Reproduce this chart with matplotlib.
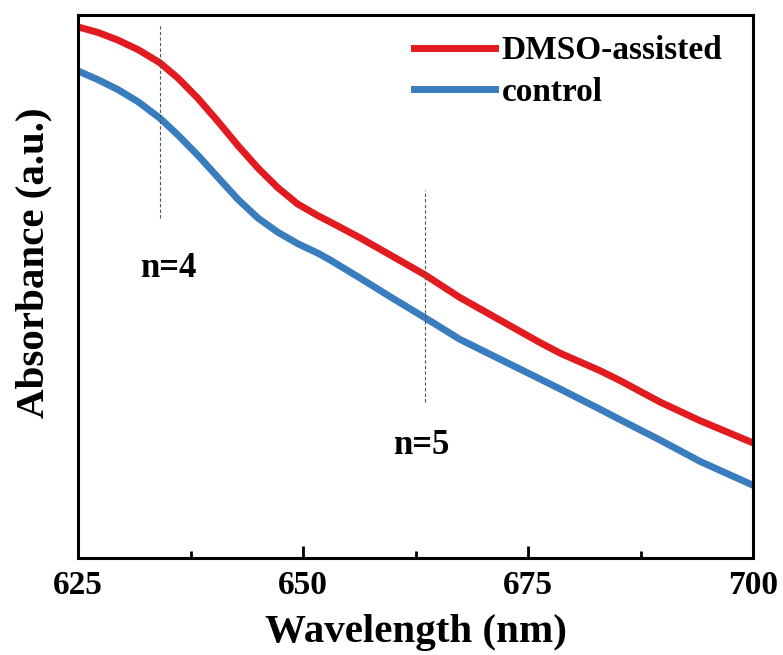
import numpy as np
import matplotlib
matplotlib.use("Agg")
import matplotlib.pyplot as plt
from matplotlib.ticker import MultipleLocator

plt.rcParams["font.family"] = ["Liberation Serif", "DejaVu Serif"]
plt.rcParams["font.weight"] = "bold"

# wavelength (nm) and absorbance (a.u.)
wavelength = [625.0, 627.2, 629.4, 631.7, 634.1, 636.1, 638.3, 640.6, 642.8, 645.0,
              647.2, 649.4, 651.7, 653.0, 656.3, 659.7, 663.6, 667.4, 671.9, 676.3,
              678.6, 683.0, 685.2, 689.7, 694.1, 700.0]
dmso = [0.978, 0.968, 0.954, 0.936, 0.912, 0.884, 0.847, 0.803, 0.759, 0.718,
        0.682, 0.652, 0.630, 0.619, 0.590, 0.558, 0.521, 0.480, 0.438, 0.397,
        0.377, 0.345, 0.327, 0.287, 0.253, 0.212]
control = [0.897, 0.881, 0.863, 0.840, 0.810, 0.779, 0.742, 0.700, 0.660, 0.626,
           0.600, 0.579, 0.561, 0.549, 0.516, 0.481, 0.442, 0.403, 0.366, 0.330,
           0.311, 0.274, 0.255, 0.217, 0.178, 0.134]

# excitonic peak markers
peak_pos = [634.1, 663.6]
peak_top = [0.983, 0.678]
peak_bot = [0.626, 0.287]
peak_text = ["n=4", "n=5"]
text_pos = [(635.0, 0.534), (663.2, 0.208)]

fig = plt.figure(figsize=(7.83, 6.55), dpi=100)
ax = fig.add_subplot(111)
fig.subplots_adjust(left=78/783, right=753/783, bottom=1-558/655, top=1-15/655)

ax.plot(wavelength, dmso, color="#e11b1f", lw=5, solid_joinstyle="round",
        label="DMSO-assisted")
ax.plot(wavelength, control, color="#3a7dbf", lw=5, solid_joinstyle="round",
        label="control")

for x, y0, y1 in zip(peak_pos, peak_bot, peak_top):
    ax.plot([x, x], [y0, y1], ls=(0, (3, 2)), color="#555555", lw=0.8)
for t, (x, y) in zip(peak_text, text_pos):
    ax.text(x, y, t, fontsize=25, fontweight="bold", ha="center", va="center")

ax.set_xlim(625, 700)
ax.set_ylim(0, 1)
ax.xaxis.set_major_locator(MultipleLocator(25))
ax.xaxis.set_minor_locator(MultipleLocator(12.5))
ax.tick_params(axis="x", which="major", direction="in", length=9, width=2, labelsize=24, pad=9)
ax.tick_params(axis="x", which="minor", direction="in", length=5, width=2)
ax.set_yticks([])
for s in ax.spines.values():
    s.set_linewidth(2.2)

ax.set_xlabel("Wavelength (nm)", fontsize=29.5, fontweight="bold", labelpad=9)
ax.set_ylabel("Absorbance (a.u.)", fontsize=29.5, fontweight="bold")
ax.yaxis.set_label_coords(-0.038, 0.543)

ax.legend(loc="upper right", bbox_to_anchor=(0.975, 0.987), borderaxespad=0,
          frameon=False, handlelength=2.45, handletextpad=0.2, labelspacing=0.32,
          prop={"weight": "bold", "size": 24})

fig.savefig("out.png", dpi=100)
